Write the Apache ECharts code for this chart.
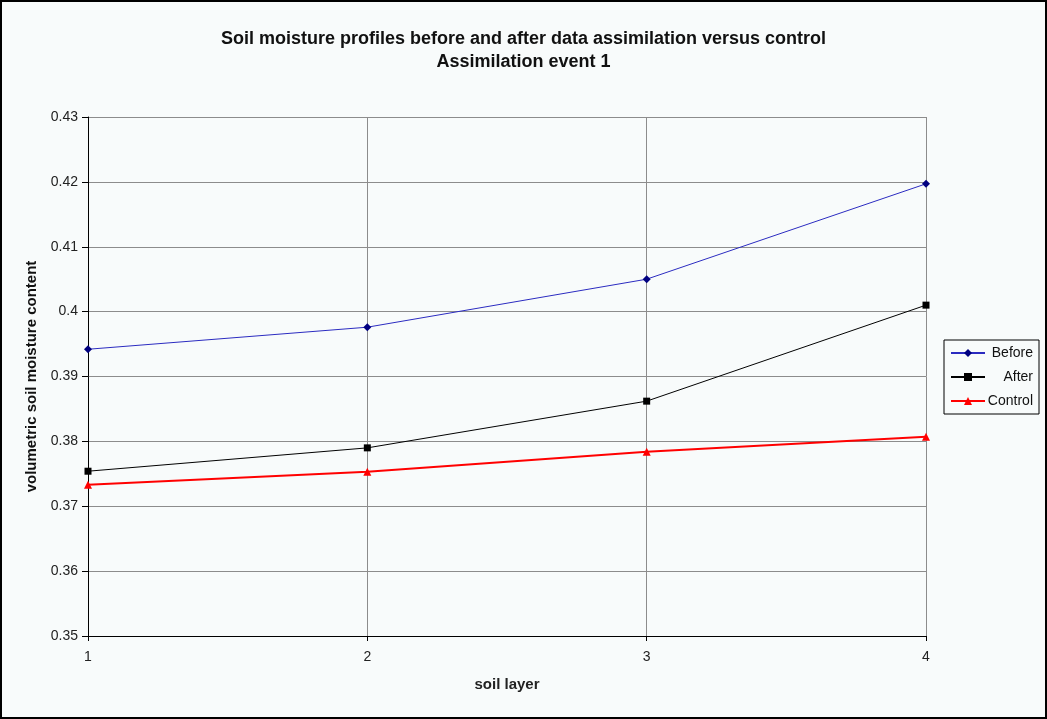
<!DOCTYPE html>
<html>
<head>
<meta charset="utf-8">
<script src="https://cdn.jsdelivr.net/npm/echarts@6/dist/echarts.min.js"></script>
<style>
  html, body { margin: 0; padding: 0; background: #000; }
  #chart {
    width: 1047px; height: 719px; box-sizing: border-box;
    border: 2px solid #000; background: #f8fbfb;
  }
</style>
</head>
<body>
<div id="chart"></div>
<script>
// Soil layers (x positions) and volumetric soil moisture per layer
const layers = [1, 2, 3, 4];
const beforeValues = [0.3942, 0.3976, 0.4050, 0.4197];
const afterValues = [0.3754, 0.3790, 0.3862, 0.4010];
const controlValues = [0.3733, 0.3753, 0.3784, 0.3807];
const yTicks = [0.35, 0.36, 0.37, 0.38, 0.39, 0.40, 0.41, 0.42, 0.43];

const pairs = vals => layers.map((x, i) => [x, vals[i]]);
const font = '"Liberation Sans", Arial, sans-serif';

const chart = echarts.init(document.getElementById('chart'), null, { renderer: 'canvas' });
chart.setOption({
  animation: false,
  textStyle: { fontFamily: font },
  title: {
    text: 'Soil moisture profiles before and after data assimilation versus control\nAssimilation event 1',
    left: 'center',
    top: 21,
    textStyle: { fontFamily: font, fontSize: 18, fontWeight: 'bold', color: '#111', lineHeight: 23 }
  },
  grid: { left: 86, right: 119, top: 115, bottom: 81 },
  legend: {
    orient: 'vertical',
    left: 942,
    top: 338,
    padding: [6, 6, 6, 6],
    itemGap: 10,
    itemWidth: 34,
    itemHeight: 10,
    borderColor: '#000',
    borderWidth: 1,
    backgroundColor: '#f8fbfb',
    formatter: name => '{t|' + name + '}',
    textStyle: {
      fontFamily: font, fontSize: 14, color: '#111',
      rich: { t: { width: 43, align: 'right', fontSize: 14, fontFamily: font, color: '#111' } }
    },
    data: ['Before', 'After', 'Control']
  },
  xAxis: {
    type: 'value',
    min: 1, max: 4, interval: 1,
    name: 'soil layer',
    nameLocation: 'middle',
    nameGap: 41,
    nameTextStyle: { fontFamily: font, fontSize: 15, fontWeight: 'bold', color: '#222' },
    axisLine: { lineStyle: { color: '#000', width: 1 } },
    axisTick: { show: true, length: 5, lineStyle: { color: '#000' } },
    axisLabel: { fontFamily: font, fontSize: 14, color: '#222', margin: 14 },
    splitLine: { show: true, lineStyle: { color: '#8c8c8c', width: 1 } }
  },
  yAxis: {
    type: 'value',
    min: yTicks[0], max: yTicks[yTicks.length - 1], interval: 0.01,
    name: 'volumetric soil moisture content',
    nameLocation: 'middle',
    nameGap: 45,
    nameTextStyle: { fontFamily: font, fontSize: 15, fontWeight: 'bold', color: '#111' },
    axisLine: { show: true, lineStyle: { color: '#000', width: 1 } },
    axisTick: { show: true, length: 6, lineStyle: { color: '#000' } },
    axisLabel: {
      fontFamily: font, fontSize: 14, color: '#222', margin: 10,
      formatter: v => String(parseFloat(v.toFixed(2)))
    },
    splitLine: { show: true, lineStyle: { color: '#8c8c8c', width: 1 } }
  },
  series: [
    {
      name: 'Before', type: 'line', data: pairs(beforeValues),
      symbol: 'diamond', symbolSize: 8,
      lineStyle: { color: '#2b2bc0', width: 1 },
      itemStyle: { color: '#000080' }
    },
    {
      name: 'After', type: 'line', data: pairs(afterValues),
      symbol: 'rect', symbolSize: 7,
      lineStyle: { color: '#000', width: 1 },
      itemStyle: { color: '#000' }
    },
    {
      name: 'Control', type: 'line', data: pairs(controlValues),
      symbol: 'triangle', symbolSize: 8,
      lineStyle: { color: '#ff0000', width: 2 },
      itemStyle: { color: '#ff0000' }
    }
  ]
});
</script>
</body>
</html>
